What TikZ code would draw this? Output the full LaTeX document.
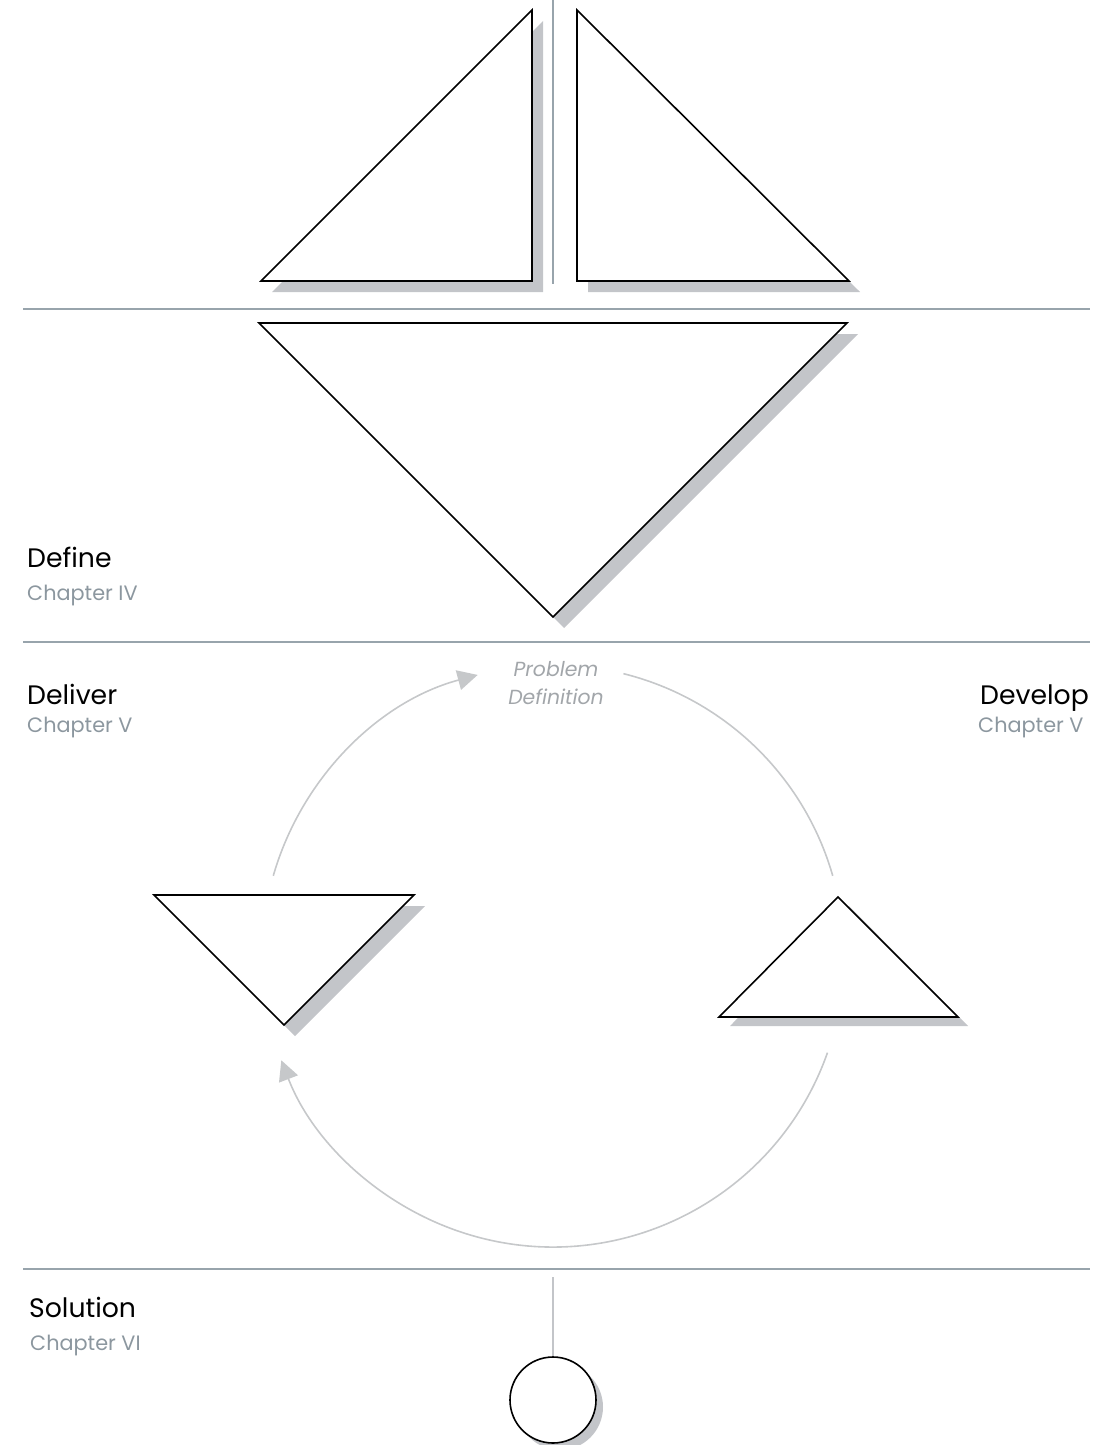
\documentclass[tikz,border=0pt]{standalone}
\usepackage{fontspec}
\setmainfont{Poppins}
\usetikzlibrary{arrows.meta}
\definecolor{rule}{HTML}{98A4AC}
\definecolor{shade}{HTML}{C3C5C9}
\definecolor{arcgray}{HTML}{C6C8CA}
\definecolor{chap}{HTML}{8C979F}
\definecolor{probgray}{HTML}{A2A6AA}
\begin{document}
\begin{tikzpicture}[x=1pt,y=-1pt,
  rulel/.style={draw=rule,line width=1.6pt},
  shadowfill/.style={fill=shade,draw=none},
  shapebox/.style={fill=white,draw=black,line width=1.6pt,line join=miter},
  arcl/.style={draw=arcgray,line width=1.6pt},
  title/.style={anchor=base west,inner sep=0pt,font=\fontsize{26.7}{32}\selectfont,text=black},
  chapter/.style={anchor=base west,inner sep=0pt,font=\fontsize{20.8}{25}\selectfont,text=chap},
  probl/.style={align=center,inner sep=0pt,font=\fontsize{20.4}{28}\selectfont\itshape,text=probgray}
]
\useasboundingbox (0,0) rectangle (1107,1445);
% rules
\draw[rulel] (553,0) -- (553,284);
\draw[rulel] (23,309) -- (1090,309);
\draw[rulel] (23,642) -- (1090,642);
\draw[rulel] (23,1269) -- (1090,1269);

% top left triangle
\fill[shadowfill] (272,292) -- (543,21) -- (543,292) -- cycle;
\draw[shapebox] (261,281) -- (532,10) -- (532,281) -- cycle;
% top right triangle
\fill[shadowfill] (588,21) -- (860,292) -- (588,292) -- cycle;
\draw[shapebox] (577,10) -- (849,281) -- (577,281) -- cycle;

% define triangle
\fill[shadowfill] (270,334) -- (858,334) -- (564,628) -- cycle;
\draw[shapebox] (259,323) -- (847,323) -- (553,617) -- cycle;

% deliver triangle
\fill[shadowfill] (165,906) -- (425,906) -- (295,1036) -- cycle;
\draw[shapebox] (154,895) -- (414,895) -- (284,1025) -- cycle;

% develop triangle
\fill[shadowfill] (849,906) -- (968,1026) -- (730,1026) -- cycle;
\draw[shapebox] (838,897) -- (958,1017) -- (719,1017) -- cycle;

% solution circle
\draw[draw=shade,line width=2.2pt] (553,1277) -- (553,1357);
\fill[shadowfill] (560,1407) circle[radius=43];
\draw[shapebox] (553,1400) circle[radius=43];

% cycle arcs
\coordinate (ctr) at (553,956);
\draw[arcl,-{Triangle[length=20pt,width=20pt]}] ([shift={(196:291)}]ctr) arc[start angle=196,end angle=255,radius=291];
\draw[arcl] ([shift={(284:291)}]ctr) arc[start angle=284,end angle=344,radius=291];
\draw[arcl,-{Triangle[length=20pt,width=20pt]}] ([shift={(19.4:291)}]ctr) arc[start angle=19.4,end angle=159,radius=291];

% labels
\node[title] (define) at (27,567) {Define};
\node[chapter] (defch) at (27,600) {Chapter IV};
\node[title] (deliver) at (27,704) {Deliver};
\node[chapter] (delch) at (27,732) {Chapter V};
\node[title] (develop) at (980,704) {Develop};
\node[chapter] (devch) at (978,732) {Chapter V};
\node[title] (solution) at (29,1317) {Solution};
\node[chapter] (solch) at (30,1350) {Chapter VI};
\node[probl] (prob) at (556,683) {Problem\\Definition};
\end{tikzpicture}
\end{document}
